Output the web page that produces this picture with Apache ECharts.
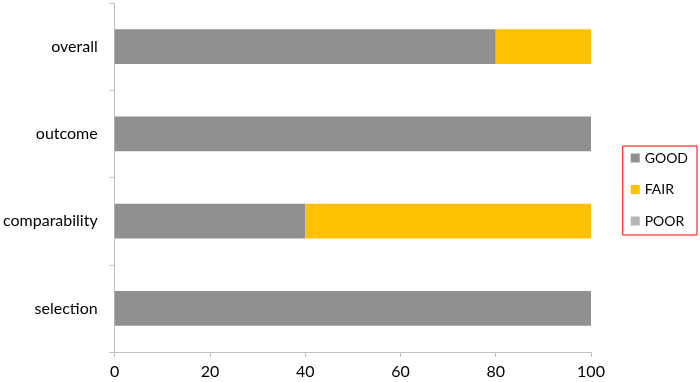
<!DOCTYPE html>
<html>
<head>
<meta charset="utf-8">
<script src="https://cdn.jsdelivr.net/npm/echarts@6/dist/echarts.min.js"></script>
<style>
  html, body { margin: 0; padding: 0; background: #fff; }
  #myChart { width: 700px; height: 382px; }
</style>
</head>
<body>
<div id="myChart"></div>
<script>
// categories, bottom to top
var categories = ["selection", "comparability", "outcome", "overall"];
var goodValues = [100, 40, 100, 80];
var fairValues = [0, 60, 0, 20];
var poorValues = [0, 0, 0, 0];
var xTicks = [0, 20, 40, 60, 80, 100];

var axisGray = "#BFBFBF";
var fontName = "Lato";

var myChart = echarts.init(document.getElementById("myChart"));

function makeSeries(name, data, color) {
  return {
    name: name,
    type: "bar",
    stack: "total",
    barWidth: "40%",
    data: data,
    itemStyle: { color: color },
  };
}

myChart.setOption({
  animation: false,
  grid: {
    left: 114,
    right: 109,
    top: 3,
    bottom: 30,
    containLabel: false,
  },
  legend: {
    orient: "vertical",
    right: 3,
    top: 146,
    data: ["GOOD", "FAIR", "POOR"],
    itemWidth: 9,
    itemHeight: 9,
    itemGap: 17.5,
    icon: "rect",
    padding: [5, 9, 7, 8],
    borderColor: "#FF0000",
    borderWidth: 1,
    textStyle: { fontFamily: fontName, fontSize: 14, color: "#000" },
  },
  xAxis: {
    type: "value",
    min: xTicks[0],
    max: xTicks[xTicks.length - 1],
    interval: 20,
    splitLine: { show: false },
    axisLine: { show: true, lineStyle: { color: axisGray } },
    axisTick: { show: true, length: 5, lineStyle: { color: axisGray } },
    axisLabel: { fontFamily: fontName, fontSize: 16, color: "#000", margin: 12 },
  },
  yAxis: {
    type: "category",
    data: categories,
    axisLine: { show: true, lineStyle: { color: axisGray } },
    axisTick: { show: true, length: 5, alignWithLabel: false, lineStyle: { color: axisGray } },
    axisLabel: { fontFamily: fontName, fontSize: 16, color: "#000", margin: 17 },
  },
  series: [
    makeSeries("GOOD", goodValues, "#909090"),
    makeSeries("FAIR", fairValues, "#FFC000"),
    makeSeries("POOR", poorValues, "#B4B4B4"),
  ],
});

window.addEventListener("resize", function () {
  myChart.resize();
});
</script>
</body>
</html>
